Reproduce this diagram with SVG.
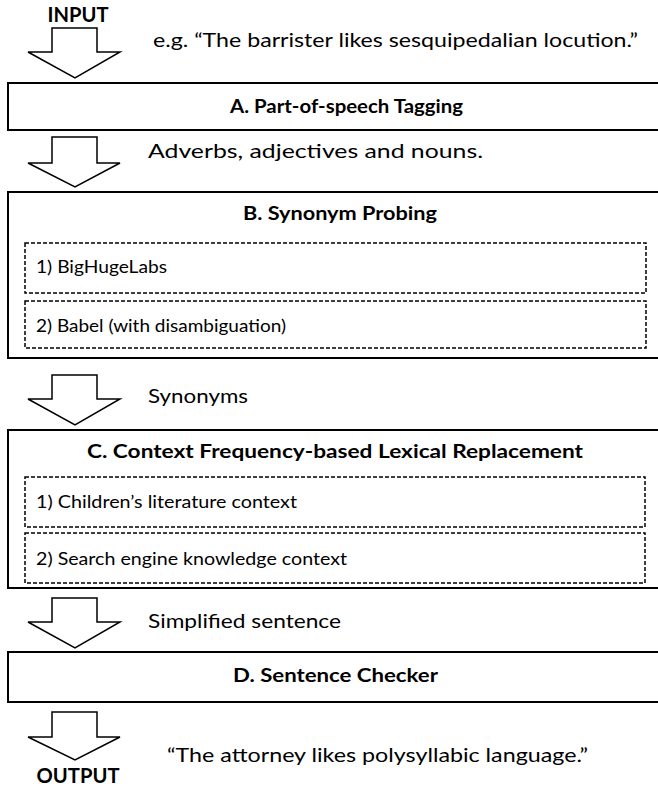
<svg xmlns="http://www.w3.org/2000/svg" width="658" height="789" viewBox="0 0 658 789">
<style>
.box{fill:#fff;stroke:#000;stroke-width:2}
.dash{fill:none;stroke:#000;stroke-width:1.5;stroke-dasharray:4 2}
.arr{fill:#fff;stroke:#000;stroke-width:1.5;stroke-linejoin:miter}
text{font-family:Lato,"Liberation Sans",Arial,sans-serif;fill:#000}
.t{font-size:18px;font-weight:bold}
.io{font-size:21px;font-weight:bold}
.c{font-size:20px}
.s{font-size:17px}
</style>
<rect width="658" height="789" fill="#fff"/>
<g id="connectors">
<path class="arr" d="M52,28 H97 V52 H120 L75,78 L28,52 H52 Z"/>
<path class="arr" d="M52,137 H97 V163 H120 L75,187 L28,163 H52 Z"/>
<path class="arr" d="M52,375 H97 V399 H120 L75,425 L28,399 H52 Z"/>
<path class="arr" d="M52,598 H97 V622 H120 L75,648 L28,622 H52 Z"/>
<path class="arr" d="M52,712 H97 V737 H120 L75,760 L28,737 H52 Z"/>
</g>
<g id="input">
<text class="io" x="78" y="22" text-anchor="middle" textLength="61" lengthAdjust="spacingAndGlyphs">INPUT</text>
<text class="c" x="153" y="47" textLength="485" lengthAdjust="spacingAndGlyphs">e.g. “The barrister likes sesquipedalian locution.”</text>
</g>
<g id="nodeA">
<rect class="box" x="8" y="83" width="660" height="47"/>
<text class="t" x="230" y="113" textLength="233" lengthAdjust="spacingAndGlyphs">A. Part-of-speech Tagging</text>
</g>
<g id="label1">
<text class="c" x="148" y="158" textLength="335" lengthAdjust="spacingAndGlyphs">Adverbs, adjectives and nouns.</text>
</g>
<g id="nodeB">
<rect class="box" x="8" y="192" width="660" height="166"/>
<text class="t" x="243" y="220" textLength="194" lengthAdjust="spacingAndGlyphs">B. Synonym Probing</text>
<g id="nodeB1">
<rect class="dash" x="25" y="243" width="621" height="50"/>
<text class="s" x="36" y="273" textLength="131" lengthAdjust="spacingAndGlyphs">1) BigHugeLabs</text>
</g>
<g id="nodeB2">
<rect class="dash" x="25" y="301" width="621" height="47"/>
<text class="s" x="36" y="332" textLength="250" lengthAdjust="spacingAndGlyphs">2) Babel (with disambiguation)</text>
</g>
</g>
<g id="label2">
<text class="c" x="148" y="403" textLength="100" lengthAdjust="spacingAndGlyphs">Synonyms</text>
</g>
<g id="nodeC">
<rect class="box" x="8" y="430" width="660" height="158"/>
<text class="t" x="87" y="458" textLength="496" lengthAdjust="spacingAndGlyphs">C. Context Frequency-based Lexical Replacement</text>
<g id="nodeC1">
<rect class="dash" x="25" y="477" width="620" height="50"/>
<text class="s" x="36" y="508" textLength="261" lengthAdjust="spacingAndGlyphs">1) Children’s literature context</text>
</g>
<g id="nodeC2">
<rect class="dash" x="25" y="533" width="620" height="50"/>
<text class="s" x="36" y="565" textLength="311" lengthAdjust="spacingAndGlyphs">2) Search engine knowledge context</text>
</g>
</g>
<g id="label3">
<text class="c" x="148" y="628" textLength="193" lengthAdjust="spacingAndGlyphs">Simplified sentence</text>
</g>
<g id="nodeD">
<rect class="box" x="8" y="652" width="660" height="50"/>
<text class="t" x="233" y="682" textLength="205" lengthAdjust="spacingAndGlyphs">D. Sentence Checker</text>
</g>
<g id="output">
<text class="io" x="78" y="783" text-anchor="middle" textLength="83" lengthAdjust="spacingAndGlyphs">OUTPUT</text>
<text class="c" x="167" y="762" textLength="421" lengthAdjust="spacingAndGlyphs">“The attorney likes polysyllabic language.”</text>
</g>
</svg>
